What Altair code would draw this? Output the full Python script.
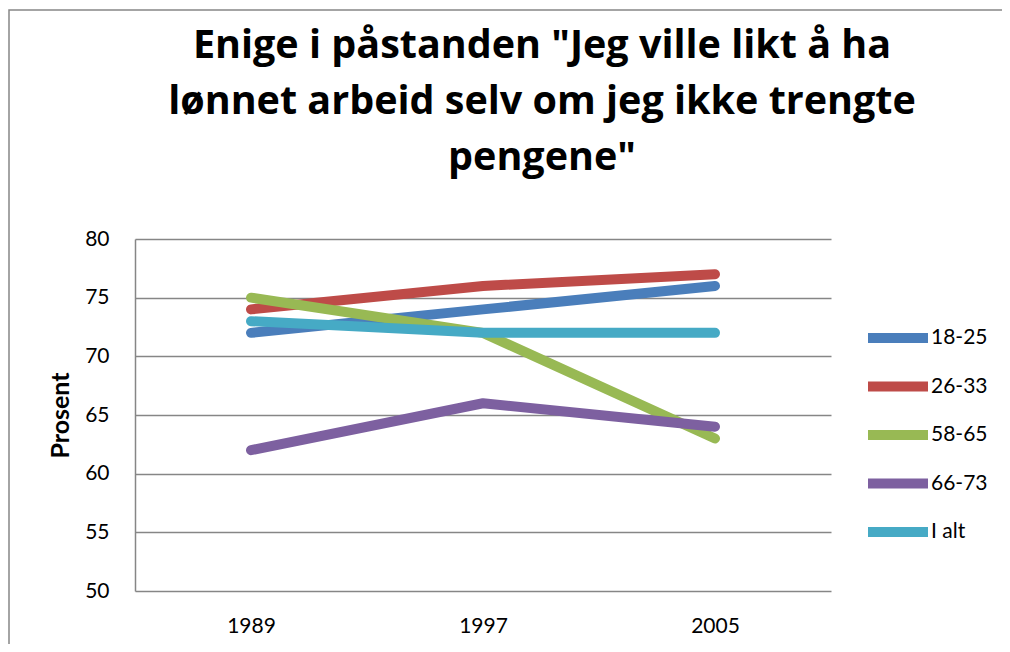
import altair as alt
import pandas as pd

years = ["1989", "1997", "2005"]
series = ["18-25", "26-33", "58-65", "66-73", "I alt"]
v_18_25 = [72, 74, 76]
v_26_33 = [74, 76, 77]
v_58_65 = [75, 72, 63]
v_66_73 = [62, 66, 64]
v_i_alt = [73, 72, 72]
colors = ["#4A7EBB", "#BE4B48", "#98B954", "#7D60A0", "#46AAC5"]

title_lines = ['Enige i påstanden "Jeg ville likt å ha',
               'lønnet arbeid selv om jeg ikke trengte',
               'pengene"']

rows = []
for s, vals in zip(series, [v_18_25, v_26_33, v_58_65, v_66_73, v_i_alt]):
    for y, v in zip(years, vals):
        rows.append({"År": y, "Gruppe": s, "Prosent": v})
df = pd.DataFrame(rows)

FONT = "Lato"

lines = alt.Chart(df).mark_line(strokeWidth=10, strokeCap="round", strokeJoin="round").encode(
    x=alt.X("År:N", sort=years, scale=alt.Scale(type="point", padding=0.5),
            axis=alt.Axis(title=None, labelAngle=0, labelFontSize=21, labelFont=FONT,
                          labelColor="#000", labelPadding=24, ticks=False, domain=False,
                          grid=False)),
    y=alt.Y("Prosent:Q", scale=alt.Scale(domain=[50, 80], nice=False, zero=False),
            axis=alt.Axis(values=[50, 55, 60, 65, 70, 75, 80], title="Prosent",
                          labelFontSize=21, labelFont=FONT, labelColor="#000",
                          labelPadding=26, ticks=False, domain=True, domainColor="#868686",
                          domainWidth=1.5, grid=True, gridColor="#868686", gridWidth=1.5,
                          titleFont=FONT, titleFontSize=25, titleFontWeight="bold",
                          titleColor="#000", titleAngle=-90, titleX=-75, titleY=176,
                          titleAlign="center", titleBaseline="middle")),
    color=alt.Color("Gruppe:N", sort=series,
                    scale=alt.Scale(domain=series, range=colors),
                    legend=alt.Legend(title=None, orient="none", legendX=743, legendY=79,
                                      symbolType="M-2,0H2", symbolSize=900,
                                      symbolStrokeWidth=10, labelFontSize=21,
                                      labelFont=FONT, labelColor="#000", labelOffset=13,
                                      rowPadding=8.5, symbolOffset=0)),
)

border = alt.Chart(pd.DataFrame({"a": [0]})).mark_rect(
    fill=None, stroke="#868686", strokeWidth=1.5
).encode(x=alt.value(-126), x2=alt.value(1500), y=alt.value(-229), y2=alt.value(1000))

chart = alt.layer(border, lines).properties(
    width=696, height=352,
    autosize=alt.AutoSizeParams(type="none"),
    padding={"left": 127, "top": 231, "right": 171, "bottom": 53},
    title=alt.TitleParams(text=title_lines, font="Open Sans", fontSize=39.5, fontWeight="bold",
                          color="#000", anchor="middle", dx=59, offset=0, dy=169,
                          baseline="top", lineHeight=56),
).configure_view(stroke=None)

chart.save("out.html", embed_options={"renderer": "svg", "actions": False})
